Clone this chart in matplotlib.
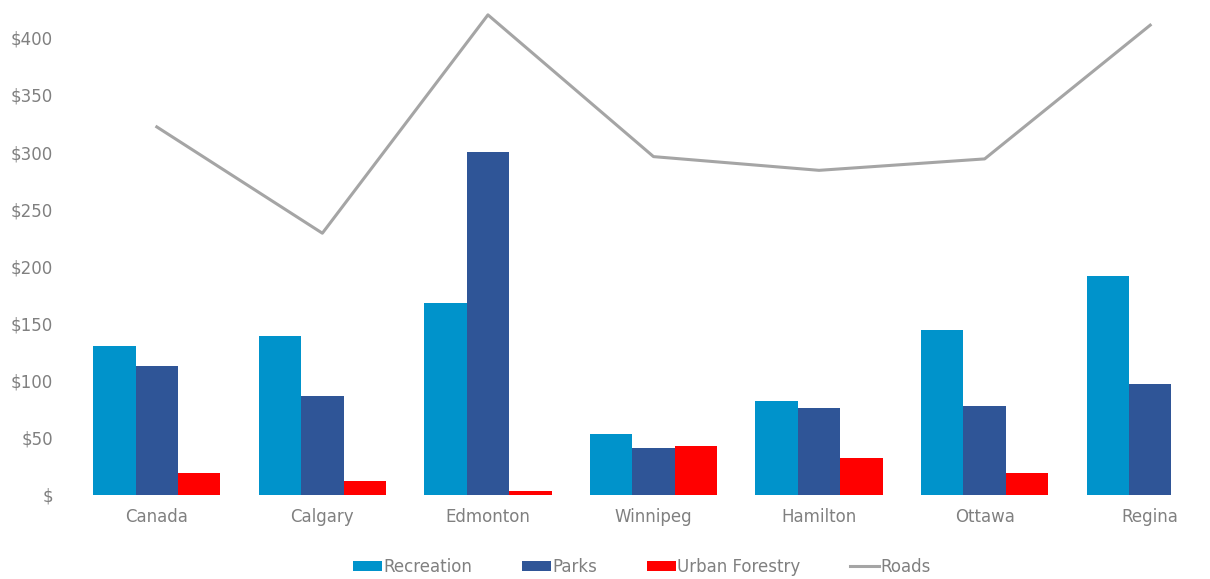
import matplotlib
matplotlib.use("Agg")
import matplotlib.pyplot as plt
import numpy as np
from matplotlib.ticker import FuncFormatter

cities = ["Canada", "Calgary", "Edmonton", "Winnipeg", "Hamilton", "Ottawa", "Regina"]
recreation = [130, 139, 168, 53, 82, 144, 192]
parks = [113, 87, 300, 41, 76, 78, 97]
urban_forestry = [19, 12.5, 3.5, 43, 32, 19, 0]
roads = [322, 229, 420, 296, 284, 294, 411]
y_ticks = [0, 50, 100, 150, 200, 250, 300, 350, 400]

c_rec = "#0093CB"
c_parks = "#2F5597"
c_uf = "#FF0000"
c_roads = "#A5A5A5"
txt = "#808080"

fig = plt.figure(figsize=(12.10, 5.79), dpi=100)
ax = fig.add_axes([74 / 1210, 84 / 579, (1233 - 74) / 1210, 495 / 579])

x = np.arange(len(cities))
w = 0.256
h_rec = ax.bar(x - w, recreation, w, color=c_rec, label="Recreation")
h_parks = ax.bar(x, parks, w, color=c_parks, label="Parks")
h_uf = ax.bar(x + w, urban_forestry, w, color=c_uf, label="Urban Forestry")
h_roads, = ax.plot(x, roads, color=c_roads, lw=2.2, label="Roads")

ax.set_xlim(-0.5, len(cities) - 0.5)
ax.set_ylim(0, 433)
ax.set_yticks(y_ticks)
ax.yaxis.set_major_formatter(FuncFormatter(lambda v, p: "$" if v == 0 else f"${int(v)}"))
ax.set_xticks(x)
ax.set_xticklabels(cities)
for s in ax.spines.values():
    s.set_visible(False)
ax.tick_params(axis="both", length=0, labelsize=12, colors=txt)
ax.tick_params(axis="x", pad=9)
ax.tick_params(axis="y", pad=15)

fig.legend(handles=[h_rec, h_parks, h_uf, h_roads],
           labels=["Recreation", "Parks", "Urban Forestry", "Roads"],
           loc="center", bbox_to_anchor=(642 / 1210, 1 - 567 / 579), ncol=4,
           frameon=False, fontsize=12, handlelength=1.75, handleheight=0.6,
           handletextpad=0.05, columnspacing=3.0, labelcolor=txt,
           borderpad=0, borderaxespad=0)

fig.savefig("out.png", dpi=100)
